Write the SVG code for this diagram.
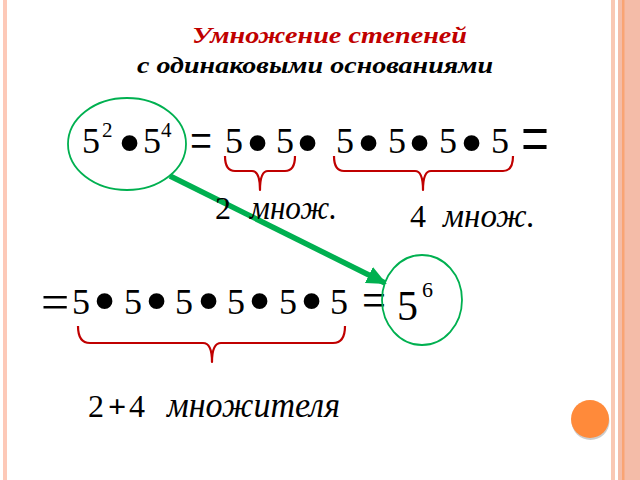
<svg xmlns="http://www.w3.org/2000/svg" width="640" height="480" viewBox="0 0 640 480">
<style>
text{font-family:'Liberation Serif','Times New Roman',serif}
.d{font-size:36px}
.b{font-size:66px}
.sup{font-size:21px}
.brace{fill:none;stroke:#C00000;stroke-width:2.2;stroke-linejoin:round}
.oval{fill:none;stroke:#00B050;stroke-width:1.8}
.ttl{font-weight:bold;font-style:italic;font-size:23px}
</style>
<defs>
<marker id="ah" markerUnits="userSpaceOnUse" markerWidth="20" markerHeight="18" refX="18" refY="9" orient="auto">
<path d="M0,0 L20,9 L0,18 Z" fill="#00B050"/>
</marker>
</defs>
<rect width="640" height="480" fill="#fff"/>
<g id="border">
<rect x="3" y="0" width="4" height="480" fill="#FDC9B8"/>
<rect x="611" y="0" width="4" height="480" fill="#F9C8B4"/>
<rect x="618" y="0" width="22" height="480" fill="#F4BCA8"/>
<rect x="622" y="0" width="2.5" height="480" fill="#F9A474"/>
</g>
<g id="title">
<text class="ttl" x="192" y="43" fill="#C00000" textLength="275" lengthAdjust="spacingAndGlyphs">Умножение степеней</text>
<text class="ttl" x="137" y="73" fill="#000" textLength="356" lengthAdjust="spacingAndGlyphs">с одинаковыми основаниями</text>
</g>
<g id="connectors">
<line x1="170" y1="176" x2="385" y2="283" stroke="#00B050" stroke-width="5.5" marker-end="url(#ah)"/>
</g>
<g id="left-oval">
<ellipse class="oval" cx="127" cy="144" rx="59" ry="46"/>
<text class="d" x="82" y="153">5</text>
<text class="sup" x="102" y="137">2</text>
<text class="b" x="118" y="164.5">•</text>
<text class="d" x="143" y="153">5</text>
<text class="sup" x="161" y="137">4</text>
</g>
<g id="row1">
<text transform="translate(190,158.5) scale(0.71,1)" font-size="55">=</text>
<text class="d" x="225" y="153">5</text>
<text class="b" x="246" y="164.5">•</text>
<text class="d" x="276" y="153">5</text>
<text class="b" x="296" y="164.5">•</text>
<text class="d" x="336" y="153">5</text>
<text class="b" x="357" y="164.5">•</text>
<text class="d" x="388" y="153">5</text>
<text class="b" x="408" y="164.5">•</text>
<text class="d" x="439" y="153">5</text>
<text class="b" x="460" y="164.5">•</text>
<text class="d" x="491" y="153">5</text>
<text transform="translate(521,166) scale(0.62,1)" font-size="80">=</text>
</g>
<g id="brace1">
<path class="brace" d="M225,156 Q225,171 235,171 H252 Q260,171 260,190 Q260,171 268,171 H285 Q295,171 295,156"/>
<text x="215" y="219" font-size="32">2</text>
<text x="250" y="219" font-size="34" font-style="italic" textLength="87" lengthAdjust="spacingAndGlyphs">множ.</text>
</g>
<g id="brace2">
<path class="brace" d="M334,156 Q334,171 344,171 H415 Q423,171 423,190 Q423,171 431,171 H503 Q513,171 513,156"/>
<text x="410" y="227" font-size="32">4</text>
<text x="443" y="227" font-size="34" font-style="italic" textLength="92" lengthAdjust="spacingAndGlyphs">множ.</text>
</g>
<g id="row2">
<text x="41" y="318.5" font-size="50">=</text>
<text class="d" x="72" y="314">5</text>
<text class="b" x="93" y="322.5">•</text>
<text class="d" x="124" y="314">5</text>
<text class="b" x="145" y="322.5">•</text>
<text class="d" x="175" y="314">5</text>
<text class="b" x="197" y="322.5">•</text>
<text class="d" x="227" y="314">5</text>
<text class="b" x="248" y="322.5">•</text>
<text class="d" x="279" y="314">5</text>
<text class="b" x="300" y="322.5">•</text>
<text class="d" x="330" y="314">5</text>
<text transform="translate(362,316.5) scale(0.85,1)" font-size="50">=</text>
</g>
<g id="right-oval">
<ellipse class="oval" cx="422" cy="300" rx="40" ry="45"/>
<text x="397" y="320" font-size="42">5</text>
<text x="422" y="297" font-size="22">6</text>
</g>
<g id="brace3">
<path class="brace" d="M78,326 Q78,343 90,343 H203 Q212,343 212,362 Q212,343 221,343 H333 Q345,343 345,326"/>
<text x="88" y="417" font-size="32">2</text>
<text x="108" y="417" font-size="32" font-weight="bold">+</text>
<text x="129" y="417" font-size="32">4</text>
<text x="167" y="417" font-size="35" font-style="italic" textLength="173" lengthAdjust="spacingAndGlyphs">множителя</text>
</g>
<g id="button">
<circle cx="590.5" cy="421" r="19" fill="#9a9a9a" opacity="0.5"/>
<circle cx="590" cy="419" r="19" fill="#FF8A3A"/>
</g>
</svg>
